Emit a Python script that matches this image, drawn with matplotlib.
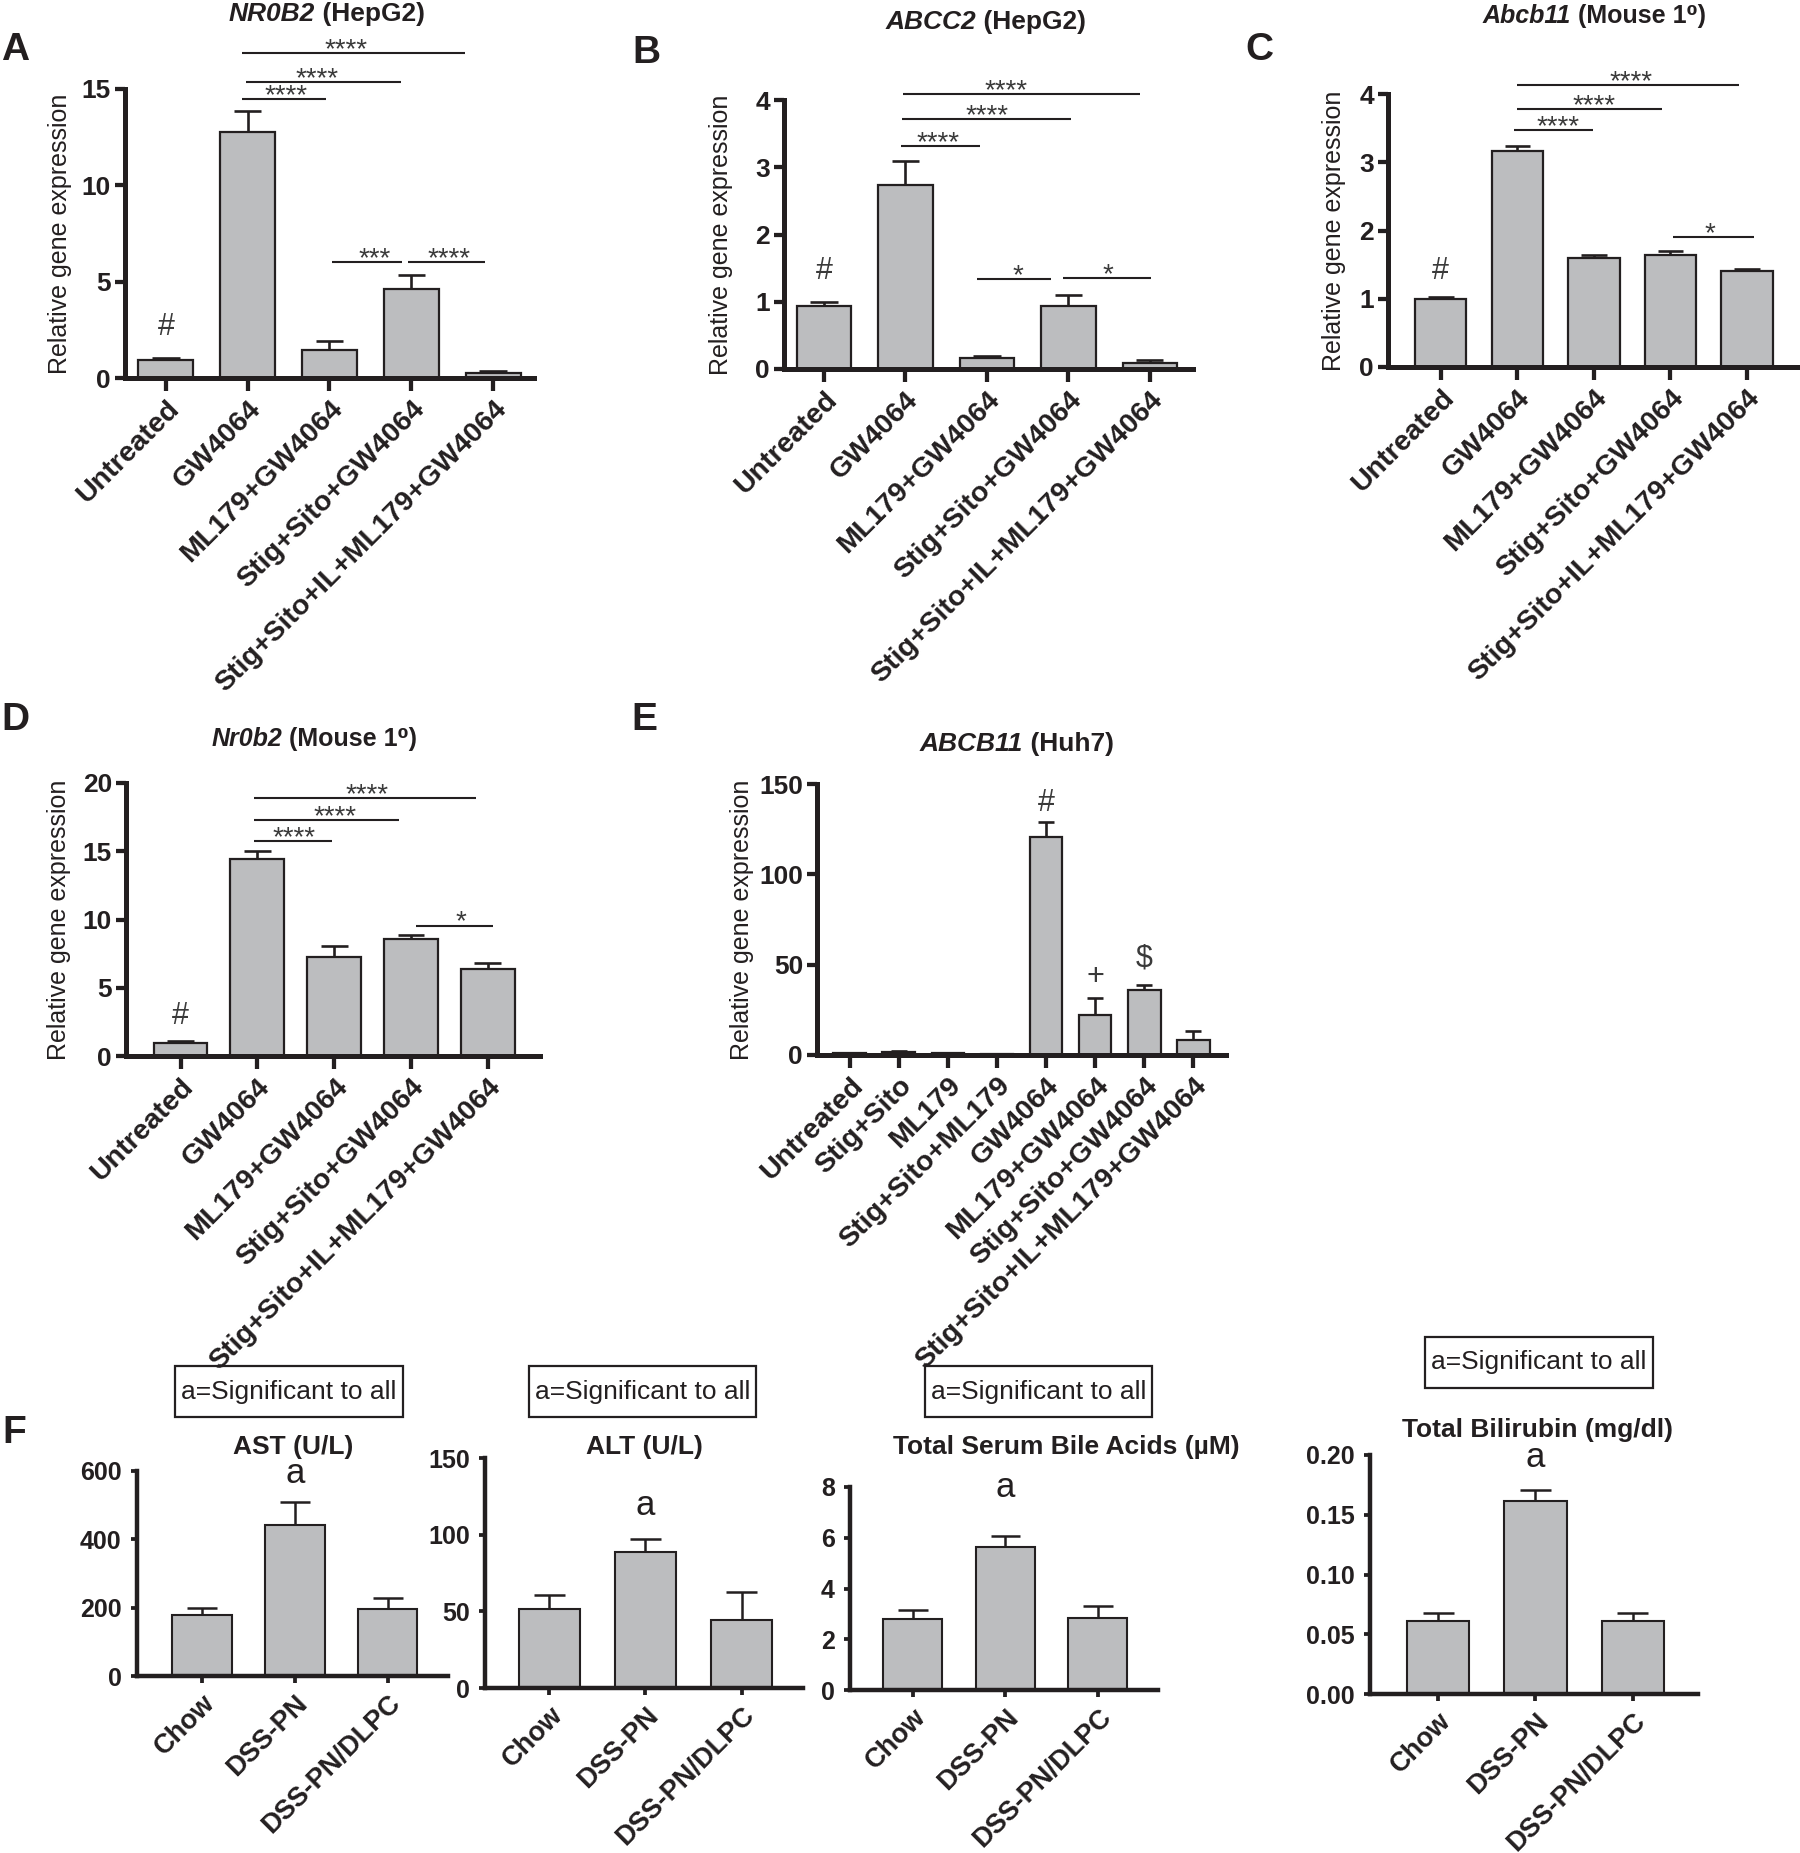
import matplotlib
matplotlib.use('Agg')
import matplotlib.pyplot as plt
from matplotlib.patches import Rectangle
import numpy as np

plt.rcParams['font.family'] = ['Liberation Sans', 'DejaVu Sans']

W, H = 1800, 1853
FILL = '#bcbdbf'
EDGE = '#231f20'
STAR = '#3a3a3a'

# ---------------- data ----------------
groups5 = ['Untreated', 'GW4064', 'ML179+GW4064', 'Stig+Sito+GW4064',
           'Stig+Sito+IL+ML179+GW4064']
groupsE = ['Untreated', 'Stig+Sito', 'ML179', 'Stig+Sito+ML179', 'GW4064',
           'ML179+GW4064', 'Stig+Sito+GW4064', 'Stig+Sito+IL+ML179+GW4064']
groupsF = ['Chow', 'DSS-PN', 'DSS-PN/DLPC']

A_vals = [0.93, 12.75, 1.47, 4.6, 0.26]
A_errs = [0.11, 1.1, 0.45, 0.74, 0.12]
B_vals = [0.93, 2.73, 0.17, 0.94, 0.09]
B_errs = [0.06, 0.37, 0.02, 0.16, 0.04]
C_vals = [0.99, 3.17, 1.60, 1.64, 1.41]
C_errs = [0.04, 0.07, 0.04, 0.06, 0.03]
D_vals = [0.98, 14.45, 7.24, 8.56, 6.36]
D_errs = [0.14, 0.54, 0.83, 0.32, 0.44]
E_vals = [1.0, 1.5, 0.9, 0.8, 120.5, 22.0, 36.2, 8.2]
E_errs = [0.0, 0.8, 0.0, 0.0, 8.5, 9.6, 2.4, 5.0]
AST_vals = [178, 442, 196]
AST_errs = [21, 68, 33]
ALT_vals = [51.8, 88.4, 44.4]
ALT_errs = [8.9, 8.9, 18.2]
TSBA_vals = [2.79, 5.64, 2.82]
TSBA_errs = [0.36, 0.43, 0.50]
BILI_vals = [0.0613, 0.1616, 0.0613]
BILI_errs = [0.0061, 0.0089, 0.0064]

# significance brackets: x-start, x-end, y, label, label x
A_sig_x1 = [0.93, 0.98, 0.93, 2.03, 2.96]
A_sig_x2 = [3.66, 2.87, 1.96, 2.89, 3.90]
A_sig_y = [16.87, 15.35, 14.49, 6.03, 6.03]
A_sig_lbl = ['****', '****', '****', '***', '****']
A_sig_tx = [2.2, 1.85, 1.47, 2.55, 3.46]

B_sig_x1 = [0.97, 0.96, 0.95, 1.88, 2.94]
B_sig_x2 = [3.88, 3.03, 1.92, 2.79, 4.01]
B_sig_y = [4.09, 3.72, 3.31, 1.34, 1.36]
B_sig_lbl = ['****', '****', '****', '*', '*']
B_sig_tx = [2.23, 2.0, 1.40, 2.38, 3.48]

C_sig_x1 = [1.0, 1.0, 0.96, 3.04]
C_sig_x2 = [3.89, 2.89, 1.99, 4.09]
C_sig_y = [4.13, 3.78, 3.47, 1.90]
C_sig_lbl = ['****', '****', '****', '*']
C_sig_tx = [2.48, 2.0, 1.53, 3.51]

D_sig_x1 = [0.96, 0.96, 0.96, 3.06]
D_sig_x2 = [3.85, 2.85, 1.97, 4.07]
D_sig_y = [18.9, 17.26, 15.75, 9.56]
D_sig_lbl = ['****', '****', '****', '*']
D_sig_tx = [2.43, 2.01, 1.48, 3.65]

# marks above bars: (bar index, y, symbol)
A_marks = [(0, 2.65, '#')]
B_marks = [(0, 1.46, '#')]
C_marks = [(0, 1.40, '#')]
D_marks = [(0, 2.9, '#')]
E_marks = [(4, 139.5, '#'), (5, 43.4, '+'), (6, 53.2, '$')]

fig = plt.figure(figsize=(W / 100, H / 100), dpi=100)
fig.patch.set_facecolor('white')


def make_ax(left, right, top, bottom):
    return fig.add_axes([left / W, 1 - bottom / H, (right - left) / W, (bottom - top) / H])


def fx(x):
    return x / W


def fy(y):
    return 1 - y / H


def draw_bars(ax, vals, errs, bw, capfrac=0.25, lw=1.6):
    x = np.arange(len(vals))
    vals = np.asarray(vals, float)
    errs = np.asarray(errs, float)
    ax.bar(x, vals, width=bw, color=FILL, edgecolor=EDGE, linewidth=lw, zorder=2)
    top = vals + errs
    ax.vlines(x, vals, top, color=EDGE, lw=lw + 0.3, zorder=1.5)
    cw = capfrac * bw
    ax.hlines(top, x - cw, x + cw, color=EDGE, lw=lw + 0.3, zorder=1.5)
    return x


def style_ax(ax, xlim, ylim, yticks, labels, ytick_fmt=None, spine_w=3.6,
             ylen=7, xlen=9.5, ysize=19, xsize=20.5, ypad=3, xpad=3):
    ax.set_xlim(*xlim)
    ax.set_ylim(*ylim)
    for s in ['top', 'right']:
        ax.spines[s].set_visible(False)
    for s in ['left', 'bottom']:
        ax.spines[s].set_linewidth(spine_w)
        ax.spines[s].set_color(EDGE)
        ax.spines[s].set_capstyle('projecting')
    ax.set_yticks(yticks)
    if ytick_fmt:
        ax.set_yticklabels([ytick_fmt.format(v) for v in yticks])
    ax.set_xticks(np.arange(len(labels)))
    ax.set_xticklabels(labels, rotation=45, ha='right', rotation_mode='anchor',
                       fontsize=xsize, fontweight='bold', color=EDGE)
    ax.tick_params(axis='y', length=ylen, width=spine_w * 0.85, direction='out',
                   labelsize=ysize, pad=ypad, color=EDGE, labelcolor=EDGE)
    ax.tick_params(axis='x', length=xlen, width=spine_w * 0.85, direction='out',
                   pad=xpad, color=EDGE)
    for t in ax.get_yticklabels():
        t.set_fontweight('bold')
    ax.patch.set_alpha(0)


def brackets(ax, x1s, x2s, ys, lbls, txs, size=20, off=-3):
    for x1, x2, y, l, tx in zip(x1s, x2s, ys, lbls, txs):
        ax.plot([x1, x2], [y, y], color=EDGE, lw=1.5, clip_on=False, solid_capstyle='butt')
        ax.annotate(l, (tx, y), xytext=(0, off), textcoords='offset points',
                    ha='center', va='baseline', fontsize=size, color=STAR,
                    annotation_clip=False)


def marks(ax, mk, size=22):
    for i, y, s in mk:
        ax.text(i, y, s, ha='center', va='center', fontsize=size, color=STAR, clip_on=False)


def mixed_title(cx, cy, parts, size=19):
    texts = []
    for s, st in parts:
        t = fig.text(0, fy(cy), s, fontsize=size, fontweight='bold', fontstyle=st,
                     ha='left', va='center', color=EDGE)
        texts.append(t)
    r = fig.canvas.get_renderer()
    widths = [t.get_window_extent(r).width for t in texts]
    x = cx - sum(widths) / 2
    for t, w in zip(texts, widths):
        t.set_x(fx(x))
        x += w


def ylabel(x, top, bottom, size=18):
    fig.text(fx(x), fy((top + bottom) / 2), 'Relative gene expression', rotation=90,
             ha='center', va='center', fontsize=size, color=EDGE)


def panel_letter(x, y, s):
    fig.text(fx(x), fy(y), s, ha='center', va='center', fontsize=28,
             fontweight='bold', color=EDGE)


# ---------------- Panel A ----------------
axA = make_ax(125, 534, 89, 378)
draw_bars(axA, A_vals, A_errs, 0.67)
style_ax(axA, (-0.5, 4.5), (0, 15), [0, 5, 10, 15], groups5)
brackets(axA, A_sig_x1, A_sig_x2, A_sig_y, A_sig_lbl, A_sig_tx)
marks(axA, A_marks)
ylabel(60, 89, 378)
mixed_title(327, 14, [('NR0B2', 'italic'), (' (HepG2)', 'normal')])
panel_letter(15, 50, 'A')

# ---------------- Panel B ----------------
axB = make_ax(784, 1193, 100, 369)
draw_bars(axB, B_vals, B_errs, 0.67)
style_ax(axB, (-0.49, 4.53), (0, 4), [0, 1, 2, 3, 4], groups5)
brackets(axB, B_sig_x1, B_sig_x2, B_sig_y, B_sig_lbl, B_sig_tx)
marks(axB, B_marks)
ylabel(721, 100, 369)
mixed_title(986, 22, [('ABCC2', 'italic'), (' (HepG2)', 'normal')])
panel_letter(646, 53, 'B')

# ---------------- Panel C ----------------
axC = make_ax(1388, 1799, 94, 367)
draw_bars(axC, C_vals, C_errs, 0.67)
style_ax(axC, (-0.69, 4.68), (0, 4), [0, 1, 2, 3, 4], groups5)
brackets(axC, C_sig_x1, C_sig_x2, C_sig_y, C_sig_lbl, C_sig_tx)
marks(axC, C_marks)
ylabel(1334, 94, 367)
mixed_title(1594, 16, [('Abcb11', 'italic'), (' (Mouse 1\u2070)', 'normal')], size=18)
panel_letter(1259, 50, 'C')

# ---------------- Panel D ----------------
axD = make_ax(126, 540, 783, 1056)
draw_bars(axD, D_vals, D_errs, 0.70)
style_ax(axD, (-0.71, 4.68), (0, 20), [0, 5, 10, 15, 20], groups5)
brackets(axD, D_sig_x1, D_sig_x2, D_sig_y, D_sig_lbl, D_sig_tx)
marks(axD, D_marks)
ylabel(59, 783, 1056)
mixed_title(314, 739, [('Nr0b2', 'italic'), (' (Mouse 1\u2070)', 'normal')], size=18)
panel_letter(15, 720, 'D')

# ---------------- Panel E ----------------
axE = make_ax(817, 1226, 784, 1055)
draw_bars(axE, E_vals, E_errs, 0.67)
style_ax(axE, (-0.67, 7.67), (0, 150), [0, 50, 100, 150], groupsE)
marks(axE, E_marks)
ylabel(742, 784, 1055)
mixed_title(1017, 744, [('ABCB11', 'italic'), (' (Huh7)', 'normal')])
panel_letter(644, 720, 'E')

# ---------------- Panel F ----------------
F_specs = [
    # left, right, top, bottom, xlim, ylim, ticks, fmt, vals, errs, title, title_xy, a_y, box
    (137, 448, 1471, 1676, (-0.70, 2.65), (0, 600), [0, 200, 400, 600], None,
     AST_vals, AST_errs, 'AST (U/L)', (293, 1447), 565, (175, 1366, 403, 1417)),
    (485, 803, 1458, 1688, (-0.67, 2.64), (0, 150), [0, 50, 100, 150], None,
     ALT_vals, ALT_errs, 'ALT (U/L)', (644, 1447), 112.8, (529, 1366, 756, 1417)),
    (850, 1158, 1487, 1690, (-0.68, 2.65), (0, 8), [0, 2, 4, 6, 8], None,
     TSBA_vals, TSBA_errs, 'Total Serum Bile Acids (\u00b5M)', (1066, 1447), 7.6,
     (925, 1366, 1152, 1417)),
    (1370, 1698, 1455, 1694, (-0.70, 2.67), (0, 0.20), [0, 0.05, 0.10, 0.15, 0.20], '{:.2f}',
     BILI_vals, BILI_errs, 'Total Bilirubin (mg/dl)', (1537, 1430), 0.190,
     (1425, 1337, 1653, 1388)),
]

for (l, r, t, b, xl, yl, yt, fmt, vals, errs, title, txy, ay, box) in F_specs:
    ax = make_ax(l, r, t, b)
    draw_bars(ax, vals, errs, 0.64, capfrac=0.25, lw=1.5)
    style_ax(ax, xl, yl, yt, groupsF, ytick_fmt=fmt, spine_w=3.2, ylen=4, xlen=5,
             ysize=18, xsize=19.5, ypad=7, xpad=5)
    fig.text(fx(txy[0]), fy(txy[1]), title, ha='center', va='center', fontsize=19,
             fontweight='bold', color=EDGE)
    ax.text(1, ay, 'a', ha='center', va='baseline', fontsize=25, color=EDGE,
            family=['Liberation Sans Narrow', 'Liberation Sans'], clip_on=False)
    x0, y0, x1, y1 = box
    fig.patches.append(Rectangle((fx(x0), fy(y1)), (x1 - x0) / W, (y1 - y0) / H,
                                 transform=fig.transFigure, fill=False, lw=1.6, ec=EDGE))
    fig.text(fx((x0 + x1) / 2), fy((y0 + y1) / 2), 'a=Significant to all', ha='center',
             va='center', fontsize=19, color=EDGE)

panel_letter(14, 1433, 'F')

fig.savefig('out.png', dpi=100, facecolor='white')
